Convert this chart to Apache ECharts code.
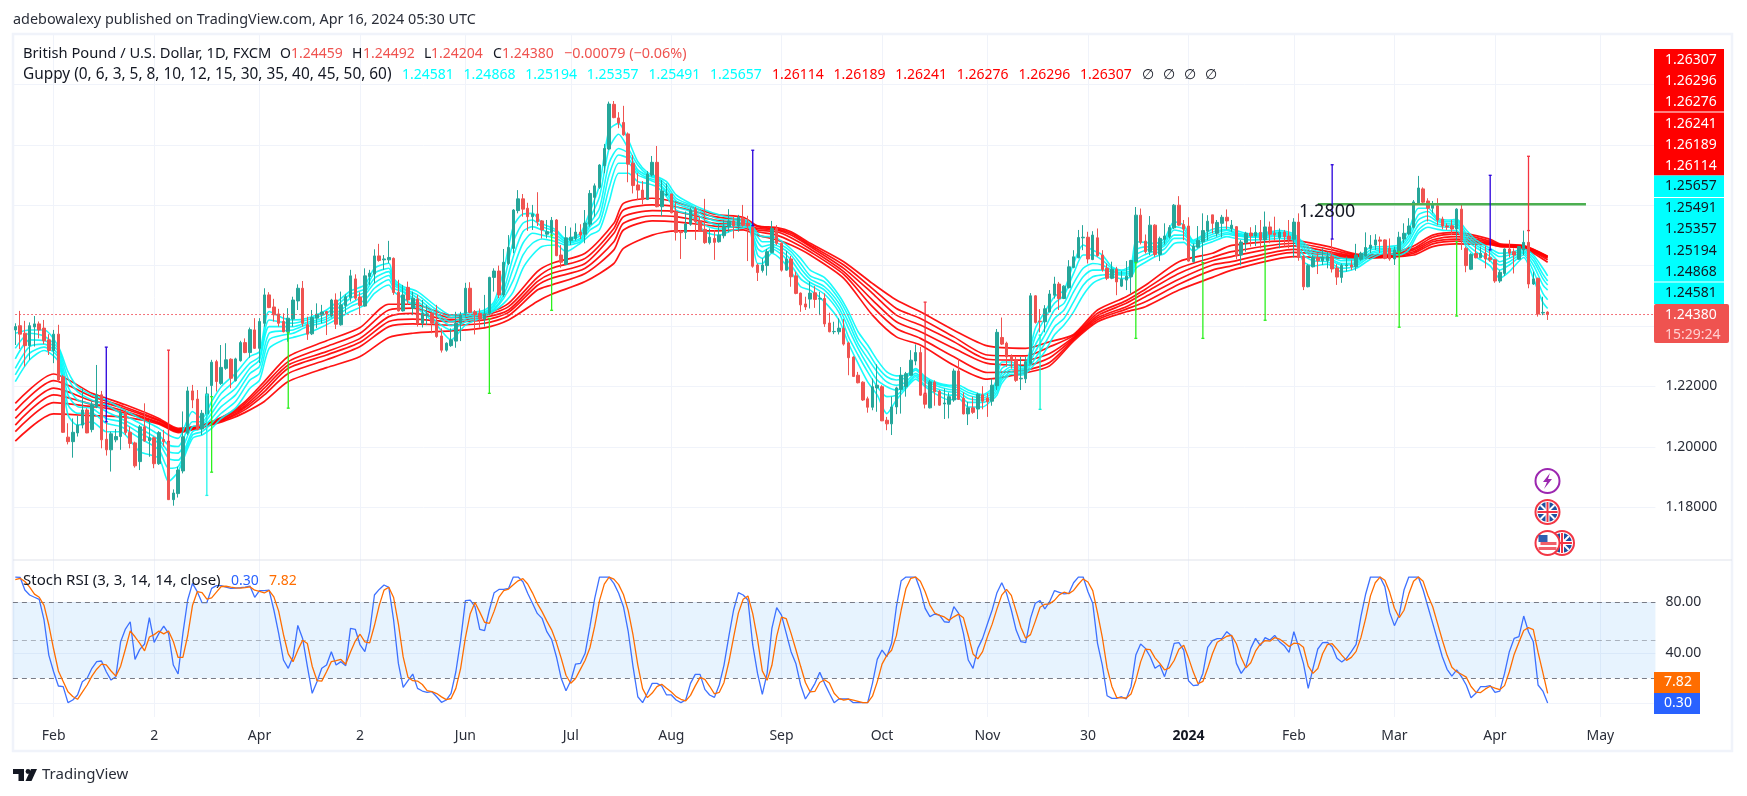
<!DOCTYPE html>
<html>
<head>
<meta charset="utf-8">
<title>GBPUSD Guppy / Stoch RSI</title>
<script src="https://cdn.jsdelivr.net/npm/echarts@6/dist/echarts.min.js"></script>
<style>
html, body { margin: 0; padding: 0; background: #fff; }
#main { width: 1747px; height: 796px; }
</style>
</head>
<body>
<div id="main"></div>
<script>
// daily candles in pips (price * 10000): open, close, low, high
var candles = [
[12387,12398,12337,12409],[12401,12373,12324,12450],[12376,12335,12266,12417],[12335,12401,12288,12412],[12397,12407,12332,12433],
[12407,12387,12359,12415],[12393,12351,12340,12420],[12354,12319,12304,12373],[12319,12373,12277,12387],[12373,12221,12216,12404],
[12232,12048,12046,12238],[12032,12017,12008,12078],[12017,12048,11964,12094],[12046,12072,12034,12103],[12072,12122,12061,12194],
[12122,12046,12045,12128],[12057,12139,12048,12150],[12133,12172,12128,12271],[12172,12023,11995,12185],[12025,11990,11971,12083],
[11990,12043,11918,12050],[12023,12034,12015,12059],[12034,12113,11990,12122],[12113,12047,12039,12128],[12048,12011,11995,12067],
[12013,11937,11931,12017],[11951,12066,11923,12072],[12066,12019,12017,12144],[12020,12030,11967,12089],[12030,11944,11929,12034],
[11944,12047,11940,12052],[12024,12017,12001,12056],[12019,11825,11824,12024],[11825,11847,11805,11859],[11845,11923,11832,11934],
[11920,12033,11912,12117],[12045,12185,12039,12199],[12185,12155,12128,12205],[12158,12057,12055,12188],[12059,12111,12039,12122],
[12109,12175,12050,12199],[12203,12280,12166,12288],[12282,12216,12183,12288],[12210,12263,12205,12337],[12260,12288,12255,12343],
[12290,12227,12194,12293],[12219,12291,12216,12295],[12285,12345,12282,12351],[12345,12312,12310,12359],[12312,12388,12295,12395],
[12387,12326,12324,12426],[12326,12415,12277,12426],[12409,12503,12398,12525],[12503,12461,12459,12512],[12463,12437,12415,12490],
[12440,12409,12398,12457],[12415,12381,12379,12442],[12381,12426,12348,12459],[12423,12486,12398,12497],[12483,12525,12453,12538],
[12525,12409,12398,12549],[12404,12373,12354,12431],[12374,12428,12370,12453],[12426,12439,12393,12475],[12437,12446,12409,12470],
[12448,12441,12370,12450],[12434,12486,12428,12490],[12486,12406,12390,12508],[12404,12470,12401,12514],[12468,12497,12442,12505],
[12494,12566,12481,12586],[12556,12492,12486,12571],[12496,12468,12437,12512],[12466,12566,12464,12591],[12564,12575,12536,12586],
[12572,12632,12542,12654],[12632,12617,12613,12672],[12619,12622,12586,12635],[12619,12627,12608,12682],[12624,12511,12503,12627],
[12512,12450,12448,12553],[12450,12503,12448,12536],[12528,12486,12470,12547],[12458,12492,12436,12514],[12489,12409,12398,12503],
[12409,12442,12395,12486],[12436,12440,12403,12470],[12442,12409,12376,12447],[12412,12365,12361,12470],[12367,12320,12312,12392],
[12320,12343,12315,12346],[12335,12354,12331,12392],[12350,12409,12328,12447],[12409,12436,12350,12447],[12442,12525,12431,12543],
[12525,12445,12442,12545],[12447,12439,12372,12453],[12442,12423,12394,12458],[12423,12440,12398,12503],[12442,12561,12436,12563],
[12561,12582,12514,12591],[12582,12503,12492,12600],[12503,12611,12497,12655],[12607,12660,12602,12701],[12657,12784,12641,12787],
[12782,12821,12773,12850],[12821,12787,12762,12837],[12790,12762,12715,12808],[12762,12771,12718,12801],[12771,12745,12731,12843],
[12748,12718,12690,12751],[12704,12712,12690,12751],[12710,12750,12690,12761],[12751,12633,12631,12754],[12635,12611,12593,12668],
[12604,12692,12602,12731],[12683,12694,12668,12726],[12690,12711,12683,12740],[12711,12701,12688,12737],[12704,12741,12674,12784],
[12737,12839,12729,12850],[12826,12864,12762,12872],[12859,12933,12854,12936],[12931,12988,12906,13003],[12986,13135,12983,13143],
[13134,13090,13088,13145],[13089,13072,13055,13108],[13074,13033,13030,13129],[13036,12936,12876,13041],[12939,12865,12839,12966],
[12867,12850,12817,12906],[12850,12819,12803,12880],[12819,12903,12817,12913],[12900,12942,12895,12963],[12942,12795,12793,12996],
[12795,12847,12764,12883],[12834,12837,12830,12872],[12837,12775,12773,12838],[12779,12710,12683,12810],[12711,12709,12622,12718],
[12710,12738,12688,12779],[12737,12784,12732,12792],[12787,12745,12685,12795],[12748,12716,12712,12762],[12720,12676,12672,12821],
[12676,12694,12670,12723],[12690,12677,12619,12718],[12679,12701,12676,12740],[12699,12731,12690,12751],[12729,12748,12710,12787],
[12748,12732,12690,12762],[12731,12760,12712,12768],[12757,12734,12729,12801],[12740,12732,12615,12765],[12726,12598,12593,12732],
[12602,12577,12549,12607],[12584,12602,12577,12624],[12600,12646,12567,12655],[12643,12723,12641,12748],[12723,12674,12668,12734],
[12674,12585,12580,12676],[12585,12622,12583,12648],[12622,12563,12530,12632],[12566,12508,12505,12580],[12509,12470,12447,12511],
[12473,12463,12453,12497],[12489,12509,12458,12547],[12510,12488,12460,12532],[12489,12491,12436,12513],[12491,12407,12397,12508],
[12410,12381,12379,12444],[12381,12382,12373,12414],[12381,12393,12372,12425],[12392,12340,12335,12423],[12344,12295,12237,12348],
[12297,12233,12231,12300],[12237,12212,12210,12248],[12214,12155,12152,12217],[12159,12131,12113,12166],[12131,12199,12121,12226],
[12195,12204,12116,12273],[12199,12086,12085,12204],[12088,12076,12055,12099],[12076,12132,12039,12166],[12132,12195,12108,12199],
[12190,12237,12110,12264],[12199,12242,12166,12248],[12237,12287,12235,12320],[12284,12312,12270,12339],[12312,12171,12169,12331],
[12174,12141,12127,12177],[12129,12215,12127,12221],[12214,12182,12136,12220],[12184,12138,12136,12188],[12142,12145,12092,12193],
[12141,12166,12094,12180],[12155,12251,12149,12259],[12251,12157,12155,12290],[12161,12109,12107,12180],[12109,12129,12072,12149],
[12129,12114,12109,12166],[12125,12174,12092,12179],[12172,12151,12124,12201],[12162,12149,12099,12177],[12151,12204,12136,12226],
[12202,12379,12188,12390],[12362,12340,12337,12428],[12343,12298,12265,12348],[12301,12285,12259,12306],[12287,12220,12215,12298],
[12225,12227,12188,12298],[12225,12282,12211,12298],[12276,12500,12273,12509],[12500,12412,12408,12502],[12416,12414,12379,12456],
[12414,12457,12379,12469],[12447,12506,12445,12519],[12502,12539,12491,12563],[12539,12491,12453,12546],[12491,12532,12489,12535],
[12527,12596,12524,12618],[12594,12629,12591,12651],[12626,12693,12624,12718],[12692,12694,12651,12734],[12694,12622,12607,12712],
[12620,12701,12618,12714],[12692,12633,12629,12723],[12635,12587,12580,12651],[12591,12558,12552,12607],[12558,12588,12555,12613],
[12588,12546,12502,12596],[12532,12555,12529,12582],[12552,12565,12519,12615],[12563,12617,12508,12619],[12613,12767,12610,12794],
[12767,12677,12670,12789],[12681,12646,12640,12703],[12646,12734,12635,12764],[12734,12637,12629,12737],[12637,12690,12615,12696],
[12687,12698,12670,12740],[12696,12726,12690,12734],[12725,12800,12721,12804],[12800,12734,12732,12830],[12736,12721,12684,12751],
[12731,12615,12613,12760],[12613,12665,12610,12673],[12661,12684,12657,12731],[12679,12716,12613,12773],[12714,12747,12684,12767],
[12768,12740,12707,12768],[12707,12743,12696,12751],[12740,12760,12694,12768],[12760,12748,12720,12786],[12723,12734,12712,12751],
[12729,12633,12621,12731],[12635,12678,12601,12685],[12676,12707,12646,12712],[12708,12698,12663,12727],[12698,12710,12665,12734],
[12710,12685,12657,12751],[12685,12728,12652,12779],[12728,12704,12674,12746],[12707,12702,12683,12762],[12693,12711,12657,12723],
[12711,12696,12663,12718],[12698,12687,12657,12751],[12687,12744,12627,12757],[12744,12627,12616,12773],[12630,12530,12519,12635],
[12530,12600,12528,12605],[12596,12627,12594,12635],[12627,12616,12572,12641],[12616,12627,12602,12657],[12616,12630,12591,12646],
[12630,12589,12577,12688],[12592,12562,12536,12605],[12561,12601,12543,12607],[12599,12602,12580,12630],[12602,12596,12585,12619],
[12596,12635,12583,12672],[12621,12641,12616,12646],[12632,12660,12630,12710],[12657,12668,12641,12701],[12668,12685,12652,12704],
[12685,12681,12641,12696],[12685,12624,12621,12687],[12657,12622,12616,12690],[12622,12652,12602,12663],[12646,12694,12635,12712],
[12688,12707,12674,12740],[12705,12731,12701,12757],[12727,12811,12723,12817],[12806,12857,12801,12897],[12854,12810,12806,12859],
[12814,12790,12746,12823],[12790,12804,12773,12814],[12798,12751,12734,12823],[12754,12731,12720,12762],[12731,12728,12718,12740],
[12732,12721,12701,12751],[12721,12787,12685,12790],[12787,12685,12652,12801],[12657,12600,12578,12663],[12588,12637,12585,12641],
[12640,12626,12624,12672],[12626,12641,12624,12663],[12641,12622,12591,12665],[12626,12619,12613,12652],[12619,12549,12543,12621],
[12549,12578,12543,12585],[12574,12655,12566,12657],[12655,12641,12627,12685],[12646,12635,12574,12657],[12621,12663,12619,12665],
[12652,12677,12635,12716],[12677,12539,12525,12716],[12539,12556,12536,12580],[12558,12440,12431,12560],[12443,12445,12436,12497],
[12446,12438,12420,12449]
];

// fast Guppy ribbon, read line by line from top to bottom: bar, then six values in pips
var fastRibbon = [
[0,12376,12326,12291,12260,12238,12216],[3,12387,12376,12354,12332,12310,12288],[6,12387,12367,12352,12340,12330,12319],
[9,12332,12324,12315,12304,12295,12282],[11,12249,12227,12199,12172,12139,12105],[13,12199,12183,12155,12133,12111,12072],
[16,12172,12155,12141,12128,12111,12083],[19,12155,12139,12117,12094,12078,12050],[22,12128,12111,12094,12083,12067,12050],
[26,12094,12078,12061,12045,12028,11984],[30,12061,12039,12023,12012,11990,11962],[32,12039,12006,11984,11962,11929,11885],
[34,12028,12001,11979,11956,11934,11918],[37,12117,12083,12067,12050,12039,12028],[39,12094,12083,12072,12061,12050,12039],
[41,12150,12128,12111,12094,12078,12061],[43,12199,12177,12155,12133,12111,12094],[46,12243,12221,12194,12172,12150,12128],
[49,12299,12277,12260,12243,12221,12194],[51,12315,12299,12288,12266,12243,12221],[53,12448,12420,12398,12376,12354,12326],
[56,12426,12412,12398,12384,12370,12354],[58,12420,12409,12398,12387,12376,12362],[61,12426,12420,12412,12406,12398,12376],
[65,12453,12442,12431,12423,12415,12404],[70,12516,12505,12492,12475,12464,12448],[73,12536,12523,12512,12503,12486,12470],
[75,12591,12575,12558,12542,12525,12508],[78,12608,12591,12580,12567,12553,12536],[79,12558,12549,12542,12536,12525,12514],
[81,12531,12525,12523,12516,12512,12492],[84,12514,12503,12492,12481,12470,12458],[88,12464,12453,12442,12434,12414,12403],
[91,12436,12428,12414,12401,12387,12354],[94,12442,12436,12431,12423,12414,12403],[98,12453,12447,12445,12442,12436,12431],
[100,12481,12472,12465,12458,12454,12450],[102,12585,12547,12519,12503,12492,12475],[104,12729,12679,12630,12591,12552,12514],
[106,12771,12740,12712,12674,12635,12591],[108,12773,12751,12729,12707,12674,12635],[110,12740,12729,12718,12701,12688,12663],
[113,12718,12712,12701,12690,12679,12668],[115,12688,12685,12679,12674,12668,12646],[118,12707,12699,12690,12685,12679,12674],
[120,12779,12757,12740,12729,12718,12701],[122,12867,12828,12790,12762,12740,12718],[124,13049,12988,12939,12900,12856,12812],
[126,13071,13035,12988,12966,12939,12906],[128,13016,12988,12972,12955,12939,12906],[130,12944,12933,12917,12909,12900,12878],
[132,12909,12902,12898,12891,12887,12872],[134,12895,12891,12887,12880,12872,12861],[136,12878,12867,12856,12845,12839,12828],
[138,12834,12823,12814,12806,12795,12784],[141,12806,12801,12795,12787,12779,12768],[144,12784,12773,12762,12751,12734,12712],
[147,12768,12754,12745,12734,12721,12701],[150,12757,12751,12743,12737,12729,12718],[153,12748,12743,12740,12734,12731,12727],
[155,12707,12696,12679,12657,12635,12607],[156,12696,12679,12663,12646,12624,12607],[158,12696,12679,12670,12663,12655,12641],
[160,12681,12668,12659,12648,12637,12619],[162,12655,12646,12635,12619,12602,12580],[164,12624,12607,12591,12575,12556,12530],
[166,12585,12566,12555,12544,12535,12519],[169,12560,12546,12530,12519,12505,12480],[172,12502,12489,12475,12460,12445,12420],
[174,12447,12431,12412,12392,12364,12342],[176,12381,12359,12342,12326,12304,12276],[178,12337,12315,12293,12270,12248,12215],
[180,12287,12265,12248,12221,12199,12171],[182,12248,12232,12215,12199,12166,12110],[184,12235,12221,12204,12188,12171,12155],
[186,12237,12229,12215,12204,12199,12193],[188,12259,12254,12243,12237,12232,12224],[190,12232,12226,12221,12215,12204,12199],
[192,12215,12210,12204,12195,12188,12177],[195,12204,12199,12190,12182,12171,12155],[197,12204,12196,12188,12180,12171,12160],
[199,12188,12180,12171,12160,12147,12132],[202,12173,12169,12162,12155,12147,12132],[204,12193,12184,12177,12169,12162,12155],
[205,12226,12215,12204,12193,12182,12171],[206,12281,12259,12243,12232,12221,12210],[208,12281,12273,12265,12257,12248,12240],
[210,12265,12259,12254,12248,12243,12237],[211,12268,12264,12259,12254,12248,12243],[213,12392,12364,12337,12315,12293,12276],
[215,12447,12425,12392,12370,12342,12315],[217,12497,12475,12453,12425,12397,12370],[219,12519,12502,12475,12453,12425,12403],
[221,12607,12574,12541,12513,12480,12447],[223,12668,12635,12591,12563,12535,12502],[225,12651,12635,12607,12585,12563,12541],
[227,12635,12618,12602,12585,12569,12557],[229,12596,12591,12585,12580,12571,12563],[231,12585,12582,12577,12573,12569,12557],
[233,12602,12594,12585,12577,12569,12563],[234,12679,12651,12635,12618,12607,12591],[236,12677,12662,12651,12637,12624,12611],
[238,12673,12662,12657,12649,12640,12629],[240,12690,12681,12673,12666,12655,12640],[242,12745,12729,12718,12701,12690,12673],
[244,12734,12721,12710,12701,12690,12677],[246,12684,12681,12677,12672,12662,12648],[248,12701,12696,12690,12682,12677,12668],
[250,12720,12711,12704,12696,12688,12679],[253,12727,12720,12716,12709,12704,12696],[255,12716,12709,12705,12701,12698,12690],
[258,12705,12701,12698,12696,12694,12685],[261,12709,12705,12701,12698,12694,12687],[264,12716,12711,12707,12702,12698,12690],
[267,12705,12700,12696,12691,12687,12683],[269,12676,12668,12660,12652,12635,12613],[271,12652,12643,12635,12627,12616,12599],
[274,12641,12635,12627,12621,12613,12605],[277,12624,12616,12607,12602,12591,12580],[280,12621,12616,12610,12605,12599,12591],
[283,12661,12652,12643,12638,12630,12621],[286,12663,12657,12654,12649,12646,12641],[289,12668,12663,12657,12652,12646,12635],
[291,12718,12701,12690,12679,12665,12652],[293,12790,12768,12751,12734,12718,12707],[295,12790,12779,12764,12751,12740,12727],
[297,12757,12751,12746,12738,12731,12720],[299,12751,12746,12740,12734,12727,12716],[301,12753,12748,12742,12737,12729,12716],
[303,12718,12707,12696,12685,12674,12663],[305,12685,12676,12668,12660,12646,12630],[308,12657,12649,12641,12630,12616,12599],
[310,12641,12630,12613,12602,12585,12558],[312,12643,12635,12624,12613,12602,12580],[315,12654,12649,12645,12641,12635,12627],
[317,12635,12627,12616,12602,12583,12558],[319,12591,12572,12557,12536,12508,12478],[320,12566,12549,12536,12519,12487,12458]
];

// slow Guppy ribbon, same layout
var slowRibbon = [
[0,12144,12120,12094,12072,12050,12019],[8,12241,12219,12194,12172,12146,12109],[16,12177,12166,12152,12141,12133,12103],
[19,12161,12152,12144,12135,12128,12102],[23,12139,12131,12125,12117,12111,12098],[30,12094,12089,12086,12081,12078,12075],
[34,12061,12058,12055,12052,12050,12047],[39,12072,12071,12070,12068,12066,12064],[41,12083,12081,12079,12077,12075,12072],
[45,12114,12110,12106,12101,12098,12093],[48,12150,12143,12136,12130,12123,12114],[52,12216,12205,12194,12183,12172,12150],
[57,12299,12282,12271,12260,12243,12216],[65,12351,12332,12315,12304,12288,12262],[72,12395,12376,12359,12346,12332,12299],
[78,12472,12453,12431,12415,12398,12362],[83,12472,12459,12442,12423,12407,12376],[91,12436,12428,12420,12414,12403,12384],
[98,12441,12436,12429,12420,12409,12394],[103,12475,12464,12453,12445,12434,12420],[109,12580,12560,12547,12534,12519,12481],
[112,12607,12591,12574,12558,12536,12505],[119,12641,12624,12607,12591,12574,12547],[125,12740,12723,12707,12679,12652,12607],
[127,12806,12784,12762,12740,12718,12657],[133,12823,12801,12782,12765,12748,12701],[138,12810,12795,12779,12762,12745,12715],
[146,12770,12762,12751,12740,12731,12715],[152,12760,12750,12740,12734,12726,12718],[155,12732,12729,12723,12718,12712,12701],
[159,12726,12721,12718,12712,12701,12685],[162,12712,12707,12701,12692,12681,12668],[166,12674,12668,12663,12655,12646,12635],
[173,12613,12602,12591,12580,12571,12558],[179,12541,12524,12508,12486,12464,12436],[184,12486,12458,12436,12414,12392,12364],
[189,12447,12425,12403,12381,12359,12337],[196,12386,12364,12348,12326,12298,12270],[203,12334,12304,12290,12276,12246,12224],
[211,12326,12301,12287,12270,12254,12245],[216,12348,12331,12309,12295,12279,12268],[221,12372,12368,12363,12359,12355,12350],
[226,12453,12442,12434,12427,12421,12414],[232,12497,12484,12475,12464,12456,12447],[236,12535,12522,12511,12497,12480,12464],
[243,12613,12591,12574,12555,12538,12519],[250,12641,12627,12616,12602,12585,12561],[254,12667,12646,12630,12613,12599,12585],
[267,12683,12674,12665,12654,12644,12630],[275,12660,12652,12644,12638,12634,12626],[280,12638,12635,12632,12630,12627,12624],
[286,12635,12634,12632,12630,12628,12627],[292,12665,12657,12652,12646,12641,12635],[296,12701,12694,12685,12679,12672,12663],
[301,12710,12704,12696,12688,12681,12672],[308,12687,12681,12677,12674,12672,12669],[310,12672,12669,12667,12666,12664,12663],
[315,12666,12665,12663,12660,12659,12657],[320,12631,12630,12628,12624,12619,12611]
];

// Stoch RSI, one value per bar
var stochK = [
100,99.8,89.7,85.8,84,82.3,66,38.2,25,13.7,13.2,.5,2.6,6.6,17.1,19.8,27.7,33,33.5,25,
18.4,21.1,48.8,58.8,64.6,34.8,42.7,47,67.8,48.3,55.4,61.2,55.4,30.3,23.2,55.4,81.8,95,88.4,79.7,
79.7,91,93.2,93.2,92,91,91.3,91.6,92,92.9,83.9,89.2,89.2,89.7,73.9,55.4,34.3,27.7,36.9,61.7,
51.4,29,7.9,17.1,27.7,30.3,40.9,30.3,33,29.8,59.4,58.6,46.2,40.9,56.7,85.8,90.2,93.7,91.8,66,
31.6,12.6,17.9,23.2,11.8,9.7,8.7,9.2,5.2,.8,2.6,7.9,25,50.1,81.3,81.8,76.5,58.6,57.5,73.9,
87.6,90.2,90.2,91,100,100,96.3,87.1,79.2,71.2,67.3,56.7,50.6,36.9,19.8,10,17.9,31.1,31.6,39.6,
60.7,83.1,100,100,100,95,87.1,76.5,56.7,29,5.2,.5,7.9,15.8,15.8,13.7,6.6,6.6,2.6,.5,
2.6,15.8,22.9,22.9,11,6.6,4.7,14.5,30.3,52.8,73.9,87.6,85.8,81.8,46.2,23.7,7.1,23.7,59.4,75.7,
69.9,55.4,40.9,31.6,14.5,3.4,9.2,15.8,24.5,15.8,7.9,.5,3.4,3.4,3.4,.5,.5,.5,.5,15.8,
34.8,42.2,36.9,47.5,76.5,97.1,100,100,100,89.7,75.2,68.6,70.7,69.9,64.6,64.1,76.5,71.2,55.4,34.3,
27.7,43.5,51.4,62.8,73.9,87.6,95.5,87.1,73.9,58,48.8,48,67.3,79.2,81.3,74.7,80.5,89.2,87.9,86.6,
87.1,95.5,100,100,88.4,79.2,47.5,30.3,6,3.9,3.9,5.2,3.4,13.2,38.2,47,43.5,36.9,27.7,30.3,
21.1,33,47.5,48,42.2,17.9,14,14.5,23.7,44.3,49.6,51.2,51.4,56.7,53.3,31.6,23.7,29,43.5,51.4,
45.6,52,50.1,53.8,48.8,45.6,40.4,56.7,44.8,31.6,11.8,27.7,43,48,48.3,44.8,35.6,32.7,35.6,40.9,
46.7,68.6,86.6,100,100,100,92.4,72,61.5,69.9,89.7,100,100,100,89.7,76.5,63.3,50.1,36.9,26.9,
21.6,26.4,21.1,14.5,4.4,7.9,13.2,13.2,14,8.7,9.7,23.7,40.9,51.4,52.8,69.1,56.7,48.8,14.5,9.7,0.3
];
var stochD = [
98,99,96.5,92,86.5,84,77.5,62,43,25.6,17.3,9.1,5.4,3.2,8.8,14.5,21.5,27,31,30.5,
25.6,21.5,29.4,43,57.4,52.7,47.4,41.5,52.5,54.4,57.2,55,57.3,49,36.3,36.3,53.5,77.4,88.4,87.7,
82.6,83.5,88,92.5,92.7,92,91.4,91.3,91.6,92.2,89.6,88.7,87.4,89.4,84.3,73,54.5,39.1,33,42.1,
50,47.3,29.4,18,17.6,25,33,33.8,34.7,31,40.7,49.3,54.7,48.6,47.9,61.6,77.6,89.6,91.9,83.8,
63,36.7,20.7,17.9,17.6,14.9,10.1,9.2,7.7,5.1,2.9,3.8,11.8,27.7,52.1,71,79.9,72.2,64.2,63.3,
73,84.1,89.3,90.5,93.9,97,98.8,94.5,87.5,79.2,72.6,65.1,58.2,48.1,35.8,22.2,15.9,19.7,26.9,34.1,
44,61.1,81.3,94.4,100,98.3,94,86.2,73.4,54.1,30.3,11.6,4.5,8.1,13.2,15.1,12,9,5.3,3.2,
1.9,6.3,13.8,20.5,18.9,13.5,7.4,8.6,16.5,32.5,52.3,71.4,82.4,85,71,50.6,25.7,18.2,30.1,53,
68.3,67,55.4,42.6,29.3,16.5,9,9.5,16.5,18.7,16.1,8,3.9,2.5,3.4,2.5,1.5,.5,.5,5.6,
17,31,38,42,53.6,73.9,91,99,100,96.6,88.3,77.8,71.5,69.7,68.4,65.7,68.5,70.6,67.7,53.7,
39.1,35.2,40.9,52.6,62.7,74.8,85.7,90.2,85.5,73,60.2,51.6,54.4,64.9,76.1,78.4,78.8,81.5,85.9,88,
86.9,89.4,94.3,98.5,96.1,89.2,71.7,52.3,28,13.4,4.6,4.3,4.2,7.3,18.3,32.8,42.9,42.5,36,31.6,
26.4,28.1,33.9,42.8,45.9,36,24.7,15.5,17.3,27.5,39.2,48.4,50.7,53.1,53.8,47.2,36.2,28.1,32.1,41.3,
46.8,49.7,49.2,52,50.9,48.1,44.9,47.6,47.3,44.4,29.4,23.7,27.5,39.2,46.5,47.2,42.9,38.2,34,36.4,
41.1,52,67.3,85.1,95.5,100,97.5,88.1,75.3,67.9,73.7,86.5,96.6,100,96.6,85.4,76.5,63.3,50.1,38,
28.5,25,23,20.7,13.3,8.9,8.5,11.4,13.5,12,10.8,14,25,38.7,48.3,57.7,59.9,58.4,40.3,24.3,7.82
];

// vertical marks on the price pane: bar, low and high in pips, colour
var spikeBars = [19, 32, 40, 41, 57, 99, 112, 154, 190, 214, 234, 248, 261, 275, 289, 301, 308, 316];
var spikeLows = [12083, 12017, 11839, 11916, 12128, 12177, 12452, 12732, 12177, 12124, 12359, 12359, 12419, 12688, 12396, 12433, 12652, 12716];
var spikeHighs = [12330, 12320, 12172, 12166, 12378, 12425, 12701, 12982, 12479, 12370, 12610, 12610, 12667, 12934, 12646, 12679, 12899, 12962];
var spikeColors = ['#2a00dc', '#f5333f', '#22f5ea', '#2cf01e', '#2cf01e', '#2cf01e', '#2cf01e', '#2a00dc', '#f5333f', '#0cf5d0', '#2cf01e', '#2cf01e', '#2cf01e', '#2a00dc', '#2cf01e', '#2cf01e', '#2a00dc', '#f5333f'];

// time axis
var slotCount = 343;
var tickBars = [8, 29, 51, 72, 94, 116, 137, 160, 181, 203, 224, 245, 267, 288, 309, 331];
var tickLabels = ['Feb', '2', 'Apr', '2', 'Jun', 'Jul', 'Aug', 'Sep', 'Oct', 'Nov', '30', '2024', 'Feb', 'Mar', 'Apr', 'May'];

var priceGridValues = [1.18, 1.20, 1.22, 1.24, 1.26, 1.28, 1.30, 1.32];
var priceLabelValues = [1.18, 1.20, 1.22];
var stochGridValues = [0, 40, 80];
var stochLabelValues = [40, 80];
var lastClose = 1.2438;
var levelBars = [272, 328];
var levelPrice = 1.2803;

var legendOhlc = [['O', '1.24459'], ['H', '1.24492'], ['L', '1.24204'], ['C', '1.24380']];
var legendFast = ['1.24581', '1.24868', '1.25194', '1.25357', '1.25491', '1.25657'];
var legendSlow = ['1.26114', '1.26189', '1.26241', '1.26276', '1.26296', '1.26307'];

var FONT = '"Noto Sans", sans-serif';
var chart = echarts.init(document.getElementById('main'));
var graphicList = [];

function toPrice(pips) {
    return pips / 10000;
}

function addText(x, y, text, fill, size, weight, align) {
    graphicList.push({
        type: 'text', x: x, y: y, z: 50, silent: true,
        style: {
            text: text, fill: fill, align: align || 'left', verticalAlign: 'middle',
            font: (weight || 'normal') + ' ' + (size || 14) + 'px ' + FONT
        }
    });
}

function addRect(x, y, w, h, fill, r) {
    graphicList.push({
        type: 'rect', z: 49, silent: true,
        shape: { x: x, y: y, width: w, height: h, r: r || 0 },
        style: { fill: fill }
    });
}

function addCircle(cx, cy, r, fill, stroke, lineWidth) {
    graphicList.push({
        type: 'circle', z: 49, silent: true,
        shape: { cx: cx, cy: cy, r: r },
        style: { fill: fill, stroke: stroke, lineWidth: lineWidth || 0 }
    });
}

function addPolygon(points, fill) {
    graphicList.push({
        type: 'polygon', z: 50, silent: true,
        shape: { points: points },
        style: { fill: fill }
    });
}

function addSegment(x1, y1, x2, y2, stroke, lineWidth) {
    graphicList.push({
        type: 'line', z: 49, silent: true,
        shape: { x1: x1, y1: y1, x2: x2, y2: y2 },
        style: { stroke: stroke, lineWidth: lineWidth }
    });
}

function addUkFlag(cx, cy) {
    addCircle(cx, cy, 12, '#fff', '#f23645', 2);
    addCircle(cx, cy, 10, '#1e50a0');
    addSegment(cx - 7, cy - 7, cx + 7, cy + 7, '#fff', 2);
    addSegment(cx - 7, cy + 7, cx + 7, cy - 7, '#fff', 2);
    addSegment(cx - 10, cy, cx + 10, cy, '#fff', 4);
    addSegment(cx, cy - 10, cx, cy + 10, '#fff', 4);
    addSegment(cx - 10, cy, cx + 10, cy, '#f23645', 2);
    addSegment(cx, cy - 10, cx, cy + 10, '#f23645', 2);
}

function addUsFlag(cx, cy) {
    addCircle(cx, cy, 12, '#fff', '#f23645', 2);
    addRect(cx - 7, cy - 1, 16, 3, '#f0606a');
    addRect(cx - 9, cy + 4, 18, 3, '#f0606a');
    addRect(cx - 9, cy - 8, 9, 7, '#2f5fb0');
}

/**
 * Page frame, header, legends, price tags and event icons
 */
function buildGraphics() {
    // frame around the chart
    graphicList.push({
        type: 'rect', z: 1, silent: true,
        shape: { x: 13, y: 34, width: 1719, height: 717 },
        style: { fill: 'none', stroke: '#f0f3fa', lineWidth: 2.5 }
    });
    addText(13, 20, 'adebowalexy published on TradingView.com, Apr 16, 2024 05:30 UTC', '#2a2e39', 14.4);

    // legend rows
    var ink = '#131722', red = '#ef5350', cyan = '#00ffff', pure = '#ff0000';
    addText(23, 54, 'British Pound / U.S. Dollar, 1D, FXCM', ink, 14.7);
    var letterX = [280, 352, 424, 493], valueX = [291, 363, 431, 502];
    legendOhlc.forEach(function(item, i) {
        addText(letterX[i], 54, item[0], ink);
        addText(valueX[i], 54, item[1], red);
    });
    addText(564, 54, '\u22120.00079 (\u22120.06%)', red, 14.4);
    addText(23, 75, 'Guppy (0, 6, 3, 5, 8, 10, 12, 15, 30, 35, 40, 45, 50, 60)', ink, 15.4);
    legendFast.forEach(function(v, i) { addText(402 + 61.6 * i, 75, v, cyan); });
    legendSlow.forEach(function(v, i) { addText(772 + 61.6 * i, 75, v, pure); });
    [1142, 1163, 1184, 1205].forEach(function(x) { addText(x, 75, '\u2205', ink); });
    addText(23, 581, 'Stoch RSI (3, 3, 14, 14, close)', ink, 15);
    addText(231, 581, '0.30', '#2962ff');
    addText(269, 581, '7.82', '#ff6d00');

    // price tags on the right scale
    addRect(1654, 49, 70, 62.5, pure);
    addRect(1654, 112.5, 70, 63, pure);
    addRect(1654, 175.5, 70, 21.5, cyan);
    addRect(1654, 198, 70, 83.5, cyan);
    addRect(1654, 282.5, 70, 21.5, cyan);
    addRect(1654, 304, 75, 39, '#ef5350', 2);
    var slowDesc = legendSlow.slice().reverse();
    var slowY = [60, 81, 102, 124, 145, 166];
    slowDesc.forEach(function(v, i) { addText(1665, slowY[i], v, '#fff'); });
    var fastDesc = legendFast.slice().reverse();
    var fastY = [186, 208, 229.5, 251, 272, 293.5];
    fastDesc.forEach(function(v, i) { addText(1665, fastY[i], v, ink); });
    addText(1665, 315, '1.24380', '#fff');
    addText(1665, 335, '15:29:24', '#ffd0d0');

    // stochastic tags
    addRect(1654, 672, 46, 21, '#ff6d00');
    addRect(1654, 693, 46, 21, '#2962ff');
    addText(1678, 682.5, '7.82', '#fff', 14, 'normal', 'center');
    addText(1678, 703.5, '0.30', '#fff', 14, 'normal', 'center');

    // drawing text on the price pane
    addText(1299, 212, '1.2800', '#131722', 18);

    // event icons
    addCircle(1547.5, 481, 12, '#fff', '#9c27b0', 2);
    addPolygon([[1550, 473], [1543, 482], [1547, 482], [1544, 489], [1552, 479], [1548, 479]], '#9c27b0');
    addUkFlag(1547.5, 512);
    addUkFlag(1562, 543);
    addUsFlag(1547.5, 543);

    // footer logo and name
    addPolygon([[13, 769], [24, 769], [24, 781], [18.5, 781], [18.5, 774], [13, 774]], '#131722');
    addCircle(28, 771.5, 2.4, '#131722');
    addPolygon([[31, 769], [37, 769], [31.5, 781], [25.5, 781]], '#131722');
    addText(42, 775, 'TradingView', '#2a2e39', 15);

    // pane separator
    graphicList.push({
        type: 'line', z: 2, silent: true,
        shape: { x1: 13, y1: 560, x2: 1732, y2: 560 },
        style: { stroke: '#e0e3eb', lineWidth: 1 }
    });
}

function ribbonSeries(rows, color, width, z) {
    var list = [];
    for (var col = 1; col <= 6; col++) {
        list.push({
            type: 'line', xAxisIndex: 0, yAxisIndex: 0, z: z, silent: true,
            showSymbol: false, smooth: 0.25, animation: false,
            lineStyle: { color: color, width: width },
            data: rows.map(function(row) { return [row[0], toPrice(row[col])]; })
        });
    }
    return list;
}

function spikeSeries() {
    return {
        type: 'custom', xAxisIndex: 0, yAxisIndex: 0, z: 8, silent: true, animation: false,
        encode: { x: 0, y: [1, 2] },
        data: spikeBars.map(function(bar, i) {
            return [bar, toPrice(spikeLows[i]), toPrice(spikeHighs[i])];
        }),
        renderItem: function(params, api) {
            var low = api.coord([api.value(0), api.value(1)]);
            var high = api.coord([api.value(0), api.value(2)]);
            var style = { stroke: spikeColors[params.dataIndex], lineWidth: 1.3 };
            return {
                type: 'group',
                children: [
                    { type: 'line', shape: { x1: low[0], y1: low[1], x2: high[0], y2: high[1] }, style: style },
                    { type: 'line', shape: { x1: low[0] - 1.5, y1: low[1], x2: low[0] + 1.5, y2: low[1] }, style: style },
                    { type: 'line', shape: { x1: high[0] - 1.5, y1: high[1], x2: high[0] + 1.5, y2: high[1] }, style: style }
                ]
            };
        }
    };
}

function render() {
    buildGraphics();

    var categories = [];
    for (var i = 0; i < slotCount; i++) {
        var at = tickBars.indexOf(i);
        categories.push(at >= 0 ? tickLabels[at] : '');
    }
    var showTick = function(index) { return tickBars.indexOf(index) >= 0; };
    var gridColor = '#f0f3fa';

    var series = [];
    series = series.concat(ribbonSeries(slowRibbon, 'rgba(255,0,0,0.92)', 1.7, 3));
    series = series.concat(ribbonSeries(fastRibbon, 'rgba(0,250,250,0.9)', 1.6, 4));
    series.push({
        type: 'candlestick', xAxisIndex: 0, yAxisIndex: 0, z: 5, silent: true, animation: false,
        barWidth: 3,
        itemStyle: { color: '#26a69a', color0: '#ef5350', borderColor: '#26a69a', borderColor0: '#ef5350', borderWidth: 1 },
        data: candles.map(function(row) { return row.map(toPrice); })
    });
    series.push(spikeSeries());
    // green level drawing
    series.push({
        type: 'line', xAxisIndex: 0, yAxisIndex: 0, z: 6, silent: true, showSymbol: false, animation: false,
        lineStyle: { color: '#4caf50', width: 2.5 },
        data: levelBars.map(function(bar) { return [bar, levelPrice]; })
    });
    // last price line
    series.push({
        type: 'line', xAxisIndex: 0, yAxisIndex: 0, z: 7, silent: true, showSymbol: false, animation: false,
        lineStyle: { color: '#f0444f', width: 1, type: [1.5, 2.5] },
        data: [[0, lastClose], [slotCount - 1, lastClose]]
    });
    series.push({
        type: 'line', xAxisIndex: 1, yAxisIndex: 1, z: 4, silent: true, showSymbol: false, animation: false,
        lineStyle: { color: '#2962ff', width: 1.3, opacity: 0.9 },
        data: stochK,
        markArea: {
            silent: true, z: 1,
            itemStyle: { color: 'rgba(33,150,243,0.11)' },
            data: [[{ yAxis: 80 }, { yAxis: 20 }]]
        },
        markLine: {
            silent: true, symbol: 'none', label: { show: false }, animation: false,
            data: [
                { yAxis: 80, lineStyle: { color: '#787b86', type: [5, 4], width: 1 } },
                { yAxis: 50, lineStyle: { color: 'rgba(120,123,134,0.55)', type: [5, 4], width: 1 } },
                { yAxis: 20, lineStyle: { color: '#787b86', type: [5, 4], width: 1 } }
            ]
        }
    });
    series.push({
        type: 'line', xAxisIndex: 1, yAxisIndex: 1, z: 5, silent: true, showSymbol: false, animation: false,
        lineStyle: { color: '#ff6d00', width: 1.3 },
        data: stochD
    });

    var xAxisBase = {
        type: 'category',
        data: categories,
        axisLine: { show: false },
        axisTick: { show: false, alignWithLabel: true, interval: showTick },
        splitLine: { show: true, alignWithLabel: true, interval: showTick, lineStyle: { color: gridColor, width: 1 } }
    };

    var option = {
        animation: false,
        backgroundColor: '#fff',
        textStyle: { fontFamily: FONT },
        graphic: graphicList,
        grid: [
            { left: 12.9, top: 35, width: 1642.5, height: 525 },
            { left: 12.9, top: 560, width: 1642.5, height: 157 }
        ],
        xAxis: [
            Object.assign({}, xAxisBase, { gridIndex: 0, axisLabel: { show: false } }),
            Object.assign({}, xAxisBase, {
                gridIndex: 1,
                axisLabel: {
                    show: true, interval: showTick, margin: 12, color: '#2a2e39', fontSize: 14, fontFamily: FONT,
                    formatter: function(value) { return value === '2024' ? '{b|2024}' : value; },
                    rich: { b: { fontWeight: 'bold', fontSize: 14, color: '#131722', fontFamily: FONT } }
                }
            })
        ],
        yAxis: [
            {
                type: 'value', gridIndex: 0, position: 'right', min: 1.162517, max: 1.336358, scale: true,
                axisLine: { show: false },
                axisTick: { show: false, customValues: priceGridValues },
                axisLabel: {
                    customValues: priceLabelValues, margin: 10, color: '#2a2e39', fontSize: 14, fontFamily: FONT,
                    formatter: function(v) { return v.toFixed(5); }
                },
                splitLine: { show: true, lineStyle: { color: gridColor, width: 1 } }
            },
            {
                type: 'value', gridIndex: 1, position: 'right', min: -10.85, max: 113.5, scale: true,
                axisLine: { show: false },
                axisTick: { show: false, customValues: stochGridValues },
                axisLabel: {
                    customValues: stochLabelValues, margin: 10, color: '#2a2e39', fontSize: 14, fontFamily: FONT,
                    formatter: function(v) { return v.toFixed(2); }
                },
                splitLine: { show: true, lineStyle: { color: gridColor, width: 1 } }
            }
        ],
        series: series
    };
    chart.setOption(option);
}

render();
</script>
</body>
</html>
